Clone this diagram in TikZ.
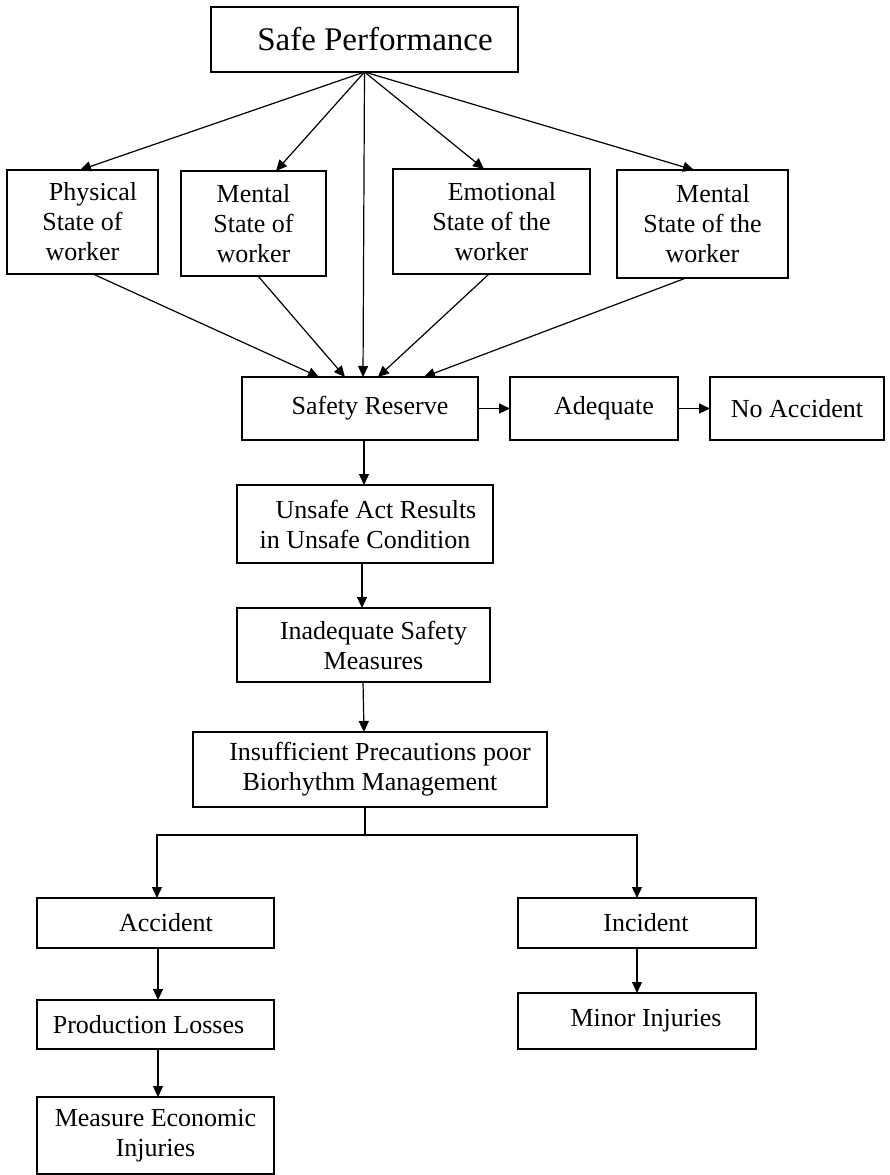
\documentclass[tikz,border=0pt]{standalone}
\usepackage{fontspec}
\setmainfont{Liberation Serif}
\usetikzlibrary{arrows.meta,calc}

\tikzset{
  box/.style={draw, line width=1.2pt, inner sep=0pt, outer sep=0pt,
    align=center, font=\fontsize{26}{30}\selectfont},
  titlebox/.style={box, font=\fontsize{33}{38}\selectfont},
  link/.style={line width=1.2pt},
  arrow/.style={link, -{Triangle[length=11pt,width=10pt]}}
}

\begin{document}
\begin{tikzpicture}[x=1pt,y=-1pt]
\useasboundingbox (0,0) rectangle (889,1175);

% top node
\node[titlebox, minimum width=307pt, minimum height=65pt] (sp) at (364.5,39.5)
  {\hspace*{21pt}Safe Performance};

% four states of the worker
\node[box, minimum width=151pt, minimum height=104pt] (phys) at (82.5,222)
  {\hspace*{21pt}Physical\\State of\\worker};
\node[box, minimum width=145pt, minimum height=105pt] (m1) at (253.5,223.5)
  {Mental\\State of\\worker};
\node[box, minimum width=197pt, minimum height=105pt] (emo) at (491.5,221.5)
  {\hspace*{21pt}Emotional\\State of the\\worker};
\node[box, minimum width=171pt, minimum height=108pt] (m2) at (702.5,224)
  {\hspace*{21pt}Mental\\State of the\\worker};

% safety reserve row
\node[box, minimum width=236pt, minimum height=63pt] (sr) at (360,408.5)
  {\hspace*{20pt}Safety Reserve};
\node[box, minimum width=168pt, minimum height=63pt] (adq) at (594,408.5)
  {\hspace*{20pt}Adequate};
\node[box, minimum width=174pt, minimum height=63pt] (noacc) at (797,408.5)
  {No Accident};

% main chain
\node[box, minimum width=256pt, minimum height=78pt] (unsafe) at (365,524)
  {\hspace*{22pt}Unsafe Act Results\\in Unsafe Condition};
\node[box, minimum width=253pt, minimum height=74pt] (inad) at (363.5,645)
  {\hspace*{20pt}Inadequate Safety\\\hspace*{20pt}Measures};
\node[box, minimum width=354pt, minimum height=75pt] (insuf) at (370,769.5)
  {\hspace*{20pt}Insufficient Precautions poor\\Biorhythm Management};

% outcomes
\node[box, minimum width=237pt, minimum height=50pt] (acc) at (155.5,923)
  {\hspace*{21pt}Accident};
\node[box, minimum width=238pt, minimum height=50pt] (inc) at (637,923)
  {\hspace*{18pt}Incident};
\node[box, minimum width=237pt, minimum height=49pt] (prod) at (155.5,1024.5)
  {Production Losses\hspace*{14pt}};
\node[box, minimum width=238pt, minimum height=56pt] (minor) at (637,1021)
  {\hspace*{18pt}Minor Injuries};
\node[box, minimum width=237pt, minimum height=77pt] (meas) at (155.5,1135.5)
  {Measure Economic\\Injuries};

% fan-out from the top node
\draw[arrow] (sp.south) -- ([xshift=-2.5pt]phys.north);
\draw[arrow] (sp.south) -- ([xshift=22.5pt]m1.north);
\draw[arrow] (sp.south) -- ([xshift=-7.5pt]emo.north);
\draw[arrow] (sp.south) -- ([xshift=-8.5pt]m2.north);

% fan-in to the safety reserve
\draw[arrow] ([xshift=10.5pt]phys.south) -- ([xshift=-41pt]sr.north);
\draw[arrow] ([xshift=4.5pt]m1.south) -- ([xshift=-15pt]sr.north);
\draw[arrow] (sp.south) -- ([xshift=3pt]sr.north);
\draw[arrow] ([xshift=-2.5pt]emo.south) -- ([xshift=18pt]sr.north);
\draw[arrow] ([xshift=-16.5pt]m2.south) -- ([xshift=64pt]sr.north);

% right-hand branch
\draw[arrow] (sr.east) -- (adq.west);
\draw[arrow] (adq.east) -- (noacc.west);

% chain downwards
\draw[arrow] ([xshift=4pt]sr.south) -- ([xshift=-1pt]unsafe.north);
\draw[arrow] ([xshift=-3pt]unsafe.south) -- ([xshift=-1.5pt]inad.north);
\draw[arrow] ([xshift=-0.5pt]inad.south) -- ([xshift=-6pt]insuf.north);

% split into accident / incident
\coordinate (split) at (365,835);
\draw[link] ([xshift=-5pt]insuf.south) -- (split);
\draw[arrow] (split) -| ([xshift=1.5pt]acc.north);
\draw[arrow] (split) -| (inc.north);

\draw[arrow] ([xshift=2.5pt]acc.south) -- ([xshift=2.5pt]prod.north);
\draw[arrow] ([xshift=2.5pt]prod.south) -- ([xshift=2.5pt]meas.north);
\draw[arrow] (inc.south) -- (minor.north);
\end{tikzpicture}
\end{document}
